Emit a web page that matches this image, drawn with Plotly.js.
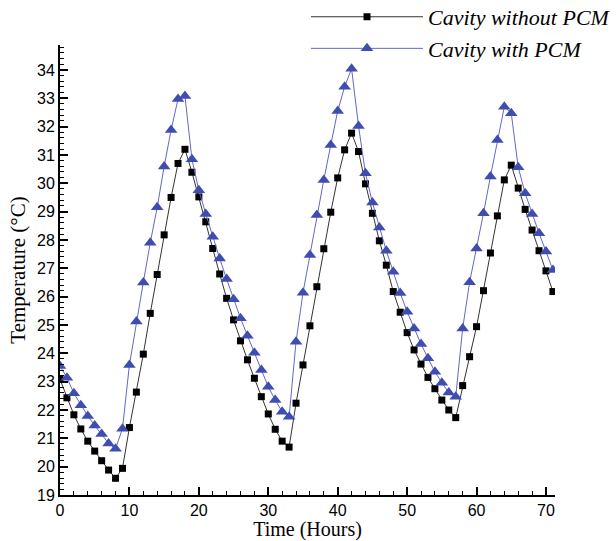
<!DOCTYPE html>
<html>
<head>
<meta charset="utf-8">
<script src="https://cdn.plot.ly/plotly-3.0.1.min.js"></script>
<style>html,body{margin:0;padding:0;background:#fff;overflow:hidden;}#chart{width:616px;height:541px;}</style>
</head>
<body>
<div id="chart"></div>
<script>
var hours = [];
for (var h = 0; h <= 71; h++) hours.push(h);

var withoutPCM = [23.08,22.43,21.83,21.33,20.90,20.55,20.21,19.88,19.59,19.94,
  21.38,22.63,23.97,25.41,26.78,28.18,29.50,30.70,31.20,30.39,
  29.52,28.64,27.70,26.80,25.94,25.18,24.44,23.77,23.12,22.47,
  21.86,21.32,20.90,20.69,22.24,23.59,24.97,26.35,27.69,28.98,
  30.19,31.18,31.77,31.12,29.98,28.94,27.97,27.11,26.18,25.45,
  24.73,24.12,23.62,23.15,22.75,22.35,22.00,21.73,22.86,23.88,
  24.94,26.21,27.54,28.85,30.12,30.64,29.83,29.08,28.35,27.62,
  26.91,26.18];

var withPCM = [23.55,23.14,22.59,22.17,21.79,21.45,21.15,20.82,20.63,21.34,
  23.59,25.12,26.50,27.90,29.15,30.59,31.88,32.97,33.08,30.85,
  29.75,28.92,28.11,27.35,26.62,25.91,25.24,24.62,24.02,23.41,
  22.82,22.35,21.94,21.76,24.41,26.14,27.47,28.88,30.12,31.35,
  32.55,33.41,34.04,32.02,30.35,29.32,28.44,27.62,26.88,26.13,
  25.47,24.88,24.33,23.83,23.35,22.96,22.62,22.47,24.88,26.51,
  27.70,28.94,30.24,31.53,32.70,32.47,30.57,29.65,28.92,28.24,
  27.59,26.94];

var seriesNames = ['Cavity without PCM', 'Cavity with PCM'];
var xTitle = 'Time (Hours)';
var yTitle = 'Temperature (°C)';

var traces = [
  {x: hours, y: withoutPCM, name: seriesNames[0], type: 'scatter', mode: 'lines+markers',
   line: {color: '#333333', width: 1},
   marker: {symbol: 'square', size: 7, color: '#000000'}},
  {x: hours, y: withPCM, name: seriesNames[1], type: 'scatter', mode: 'lines+markers',
   line: {color: '#6068c8', width: 1},
   marker: {symbol: 'triangle-up', size: 11, color: '#3f4db0'}}
];

var tickFont = {family: '"Liberation Sans", Arial, sans-serif', size: 16, color: '#000'};
var titleFont = {family: '"Liberation Serif", "Times New Roman", serif', size: 20, color: '#000'};

var layout = {
  width: 616, height: 541,
  margin: {l: 60, r: 61, t: 45, b: 46, autoexpand: false},
  paper_bgcolor: '#fff', plot_bgcolor: '#fff',
  showlegend: true,
  legend: {
    x: 0.497, y: 1.109, xanchor: 'left', yanchor: 'top',
    bgcolor: 'rgba(0,0,0,0)', borderwidth: 0,
    itemwidth: 112, tracegroupgap: 0,
    font: {family: '"Liberation Serif", "Times New Roman", serif', size: 22, style: 'italic', color: '#000'}
  },
  xaxis: {
    range: [0, 71.3], showgrid: false, zeroline: false,
    showline: true, linecolor: '#000', linewidth: 2,
    ticks: 'inside', ticklen: 8, tickwidth: 2, tickcolor: '#000',
    tick0: 0, dtick: 10, tickfont: tickFont,
    minor: {ticks: 'inside', dtick: 2, ticklen: 4, tickwidth: 1, tickcolor: '#000', showgrid: false},
    title: {text: xTitle, font: titleFont, standoff: 8}
  },
  yaxis: {
    range: [19, 34.88], showgrid: false, zeroline: false,
    showline: true, linecolor: '#000', linewidth: 2,
    ticks: 'inside', ticklen: 8, tickwidth: 2, tickcolor: '#000',
    tick0: 19, dtick: 1, tickfont: tickFont,
    minor: {ticks: 'inside', dtick: 0.2, ticklen: 4, tickwidth: 1, tickcolor: '#000', showgrid: false},
    title: {text: yTitle, font: {family: '"Liberation Serif", "Times New Roman", serif', size: 21, color: '#000'}, standoff: 6}
  }
};

Plotly.newPlot('chart', traces, layout, {displayModeBar: false, staticPlot: true});
</script>
</body>
</html>
